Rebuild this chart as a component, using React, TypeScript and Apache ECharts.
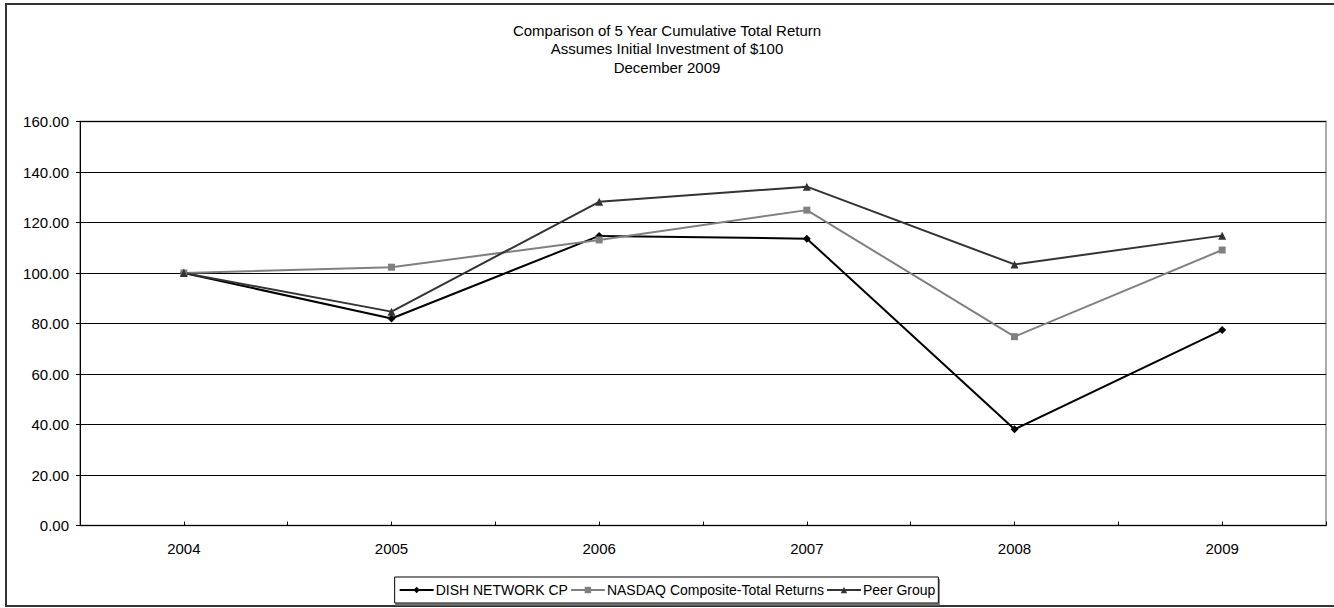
import React, { useEffect, useRef } from "react";
import * as echarts from "echarts";

const titleLines = [
  "Comparison of 5 Year Cumulative Total Return",
  "Assumes Initial Investment of $100",
  "December 2009",
];
const years = ["2004", "2005", "2006", "2007", "2008", "2009"];
const dish = [100.0, 82.0, 114.7, 113.6, 38.1, 77.4];
const nasdaq = [100.0, 102.3, 113.1, 124.9, 74.8, 109.1];
const peer = [100.0, 84.7, 128.2, 134.2, 103.4, 114.8];
const seriesNames = ["DISH NETWORK CP", "NASDAQ Composite-Total Returns", "Peer Group"];
const halfTicks = ["", "", "", "", "", "", "", "", "", "", "", ""];

const FONT = "'Liberation Sans', Arial, sans-serif";

export default function App() {
  const ref = useRef<HTMLDivElement>(null);
  useEffect(() => {
    if (!ref.current) return;
    const chart = echarts.init(ref.current, undefined, { renderer: "svg" });
    const mkSeries = (name: string, data: number[], color: string, symbol: string, size: number) => ({
      name,
      type: "line",
      data,
      xAxisIndex: 0,
      symbol,
      symbolSize: size,
      showSymbol: true,
      lineStyle: { color, width: 2 },
      itemStyle: { color, borderWidth: 0 },
      emphasis: { disabled: true },
    });
    chart.setOption({
      animation: false,
      backgroundColor: "#fff",
      textStyle: { fontFamily: FONT },
      graphic: [
        {
          type: "rect",
          shape: { x: 6, y: 4, width: 1340, height: 602 },
          style: { fill: "none", stroke: "#333", lineWidth: 2 },
          silent: true,
          z: -10,
        },
      ],
      title: {
        text: titleLines.join("\n"),
        left: "center",
        top: 21,
        padding: 0,
        textStyle: {
          fontFamily: FONT,
          fontSize: 15,
          fontWeight: "normal",
          color: "#000",
          lineHeight: 18.5,
          align: "center",
        },
      },
      legend: {
        data: seriesNames,
        bottom: 5,
        left: "center",
        itemWidth: 34,
        itemHeight: 8,
        itemGap: 2,
        padding: [6, 3, 6, 4],
        borderColor: "#000",
        borderWidth: 1,
        backgroundColor: "#fff",
        shadowColor: "#777",
        shadowOffsetX: 1,
        shadowOffsetY: 2,
        shadowBlur: 0,
        textStyle: { fontFamily: FONT, fontSize: 14, color: "#000", padding: [0, 0, 0, -3] },
      },
      grid: {
        left: 80,
        right: 8,
        top: 121.5,
        bottom: 82.5,
        show: true,
        borderColor: "#aaa",
        borderWidth: 2,
        containLabel: false,
      },
      xAxis: [
        {
          type: "category",
          data: years,
          boundaryGap: true,
          axisLine: { lineStyle: { color: "#000", width: 1 } },
          axisTick: { show: false },
          axisLabel: { fontFamily: FONT, fontSize: 15, color: "#000", margin: 15 },
          splitLine: { show: false },
        },
        {
          type: "category",
          data: halfTicks,
          position: "bottom",
          boundaryGap: true,
          axisLine: { show: false },
          axisLabel: { show: false },
          axisTick: { show: true, inside: true, length: 4, lineStyle: { color: "#000" } },
          splitLine: { show: false },
        },
      ],
      yAxis: {
        type: "value",
        min: 0,
        max: 160,
        interval: 20,
        axisLine: { show: true, lineStyle: { color: "#000", width: 1 } },
        axisTick: { show: true, length: 4, lineStyle: { color: "#000" } },
        axisLabel: {
          fontFamily: FONT,
          fontSize: 15,
          color: "#000",
          margin: 11,
          formatter: (v: number) => v.toFixed(2),
        },
        splitLine: { show: true, lineStyle: { color: "#000", width: 1 } },
      },
      series: [
        mkSeries(seriesNames[0], dish, "#000", "diamond", 8),
        mkSeries(seriesNames[1], nasdaq, "#808080", "rect", 7),
        mkSeries(seriesNames[2], peer, "#333", "triangle", 8),
      ],
    });
    return () => chart.dispose();
  }, []);
  return (
    <div
      ref={ref}
      style={{ position: "absolute", left: 0, top: 0, width: 1334, height: 608 }}
    />
  );
}
